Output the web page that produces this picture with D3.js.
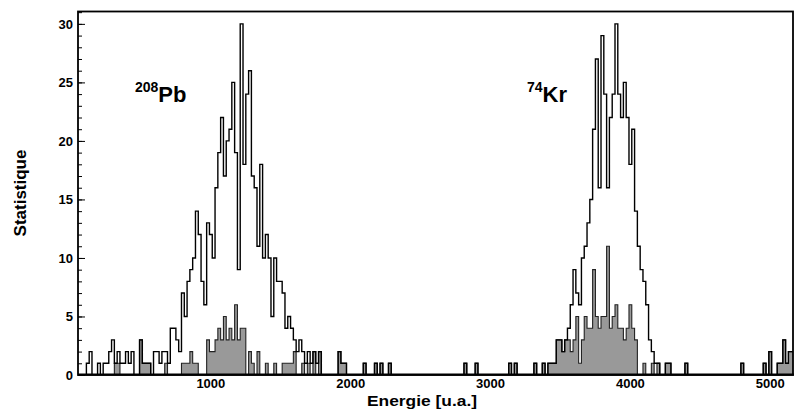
<!DOCTYPE html>
<html>
<head>
<meta charset="utf-8">
<script src="https://cdn.jsdelivr.net/npm/d3@7"></script>
<style>
  body { margin: 0; background: #fff; }
  text { font-family: "Liberation Sans", Arial, Helvetica, sans-serif; font-weight: bold; }
</style>
</head>
<body>
<script>
// histogram binning (energy units)
const binStart = 50;
const binWidth = 20;

// all events, one value per bin (256 bins)
const totalCounts = [
  0,0,0,1,2,0,0,1,0,1,1,2,3,1,2,1,
  1,2,1,2,0,0,3,1,1,1,0,2,2,1,2,2,
  1,4,4,3,2,7,5,8,9,10,14,12,8,6,13,12,
  10,16,19,22,17,20,21,25,19,9,30,18,24,26,17,16,
  11,18,10,12,10,5,10,8,8,7,4,5,4,3,2,3,
  2,1,2,1,2,1,2,0,0,0,0,0,0,2,1,1,
  0,0,0,0,0,0,1,0,0,0,1,0,1,0,0,1,
  0,0,0,0,0,0,0,0,0,0,0,0,0,0,0,0,
  0,0,0,0,0,0,0,0,0,0,1,0,0,0,1,0,
  0,0,0,0,0,0,0,0,0,0,1,0,1,0,0,0,
  0,0,0,1,0,0,1,0,1,1,1,3,3,2,3,4,
  6,9,7,6,10,11,13,15,21,27,16,29,24,16,22,24,
  30,24,22,25,22,18,21,14,11,9,8,6,3,2,1,1,
  0,0,1,1,0,0,0,0,0,1,0,0,0,0,0,0,
  0,0,0,0,0,0,0,0,0,0,0,0,0,1,0,0,
  0,0,0,0,0,1,0,2,0,0,1,1,3,1,2,2
];

// selected events (grey histogram)
const gatedCounts = [
  0,0,0,0,0,0,0,0,0,0,0,0,0,1,1,0,
  0,0,0,0,0,0,3,1,1,1,0,0,0,0,0,1,
  0,0,0,0,0,1,1,1,2,1,1,0,0,0,3,2,
  2,3,4,3,5,3,4,3,6,3,4,4,0,2,1,0,
  2,0,0,1,0,0,1,0,0,1,1,1,1,2,0,0,
  1,0,1,0,2,0,2,0,0,0,0,0,0,2,1,1,
  0,0,0,0,0,0,1,0,0,0,1,0,1,0,0,1,
  0,0,0,0,0,0,0,0,0,0,0,0,0,0,0,0,
  0,0,0,0,0,0,0,0,0,0,1,0,0,0,1,0,
  0,0,0,0,0,0,0,0,0,0,1,0,1,0,0,0,
  0,0,0,1,0,0,1,0,1,1,1,3,3,2,3,3,
  2,3,5,1,3,5,4,4,9,5,4,5,5,11,4,5,
  6,4,4,3,4,6,4,3,0,0,1,0,0,1,0,1,
  0,0,1,1,0,0,0,0,0,1,0,0,0,0,0,0,
  0,0,0,0,0,0,0,0,0,0,0,0,0,1,0,0,
  0,0,0,0,0,1,0,2,0,0,1,1,3,1,2,2
];

const yTicks = [0, 5, 10, 15, 20, 25, 30];
const yMinorTicks = d3.range(0, 32);
const xTicks = [1000, 2000, 3000, 4000, 5000];

const svg = d3.select("body")
    .append("svg")
    .attr("width", 794)
    .attr("height", 412);

const x = d3.scaleLinear().domain([50, 5170]).range([78, 794]);
const y = d3.scaleLinear().domain([0, 31.1]).range([375, 11]);

// turn counts into step points (left edge of each bin + closing edge)
function steps(counts) {
    const pts = counts.map((c, i) => ({ e: binStart + i * binWidth, c: c }));
    pts.push({ e: binStart + counts.length * binWidth, c: counts[counts.length - 1] });
    return pts;
}

svg.append("clipPath")
    .attr("id", "plot-clip")
    .append("rect")
    .attr("x", 78)
    .attr("y", 11)
    .attr("width", 715)
    .attr("height", 364);

const plot = svg.append("g").attr("clip-path", "url(#plot-clip)");

const area = d3.area()
    .curve(d3.curveStepAfter)
    .x(d => x(d.e))
    .y0(y(0))
    .y1(d => y(d.c));

const line = d3.line()
    .curve(d3.curveStepAfter)
    .x(d => x(d.e))
    .y(d => y(d.c));

plot.append("path")
    .datum(steps(gatedCounts))
    .attr("d", area)
    .attr("fill", "#999")
    .attr("stroke", "#222")
    .attr("stroke-width", 1.1);

plot.append("path")
    .datum(steps(totalCounts))
    .attr("d", line)
    .attr("fill", "none")
    .attr("stroke", "#000")
    .attr("stroke-width", 1.4);

// y axis : minor + major ticks, pointing inside
svg.append("g")
    .attr("transform", "translate(78,0)")
    .call(d3.axisLeft(y).tickValues(yMinorTicks).tickSizeInner(-4).tickSizeOuter(0).tickFormat(""))
    .call(g => g.select(".domain").remove())
    .selectAll("line").attr("stroke", "#000");

const yAxis = svg.append("g")
    .attr("transform", "translate(78,0)")
    .call(d3.axisLeft(y).tickValues(yTicks).tickSizeInner(-7).tickSizeOuter(0).tickPadding(5));
yAxis.select(".domain").remove();
yAxis.selectAll("line").attr("stroke", "#000");
yAxis.selectAll("text")
    .attr("font-size", 13)
    .attr("font-family", "Liberation Sans, Arial, sans-serif")
    .attr("font-weight", "bold")
    .attr("fill", "#000");

// x tick labels
svg.append("g")
    .selectAll("text")
    .data(xTicks)
    .enter()
    .append("text")
    .attr("x", d => x(d))
    .attr("y", 388)
    .attr("text-anchor", "middle")
    .attr("font-size", 13)
    .text(d => d);

// frame
svg.append("rect")
    .attr("x", 78)
    .attr("y", 11.5)
    .attr("width", 715)
    .attr("height", 363.5)
    .attr("fill", "none")
    .attr("stroke", "#000")
    .attr("stroke-width", 1.8);

svg.append("line")
    .attr("x1", 78).attr("x2", 794)
    .attr("y1", 374.5).attr("y2", 374.5)
    .attr("stroke", "#000")
    .attr("stroke-width", 2);

// axis titles
svg.append("text")
    .attr("x", 477)
    .attr("y", 406)
    .attr("text-anchor", "end")
    .attr("font-size", 15)
    .attr("textLength", 110)
    .attr("lengthAdjust", "spacingAndGlyphs")
    .text("Energie [u.a.]");

svg.append("text")
    .attr("transform", "translate(26,193) rotate(-90)")
    .attr("text-anchor", "middle")
    .attr("font-size", 17)
    .text("Statistique");

// peak labels
const pb = svg.append("text").attr("x", 135).attr("y", 102);
pb.append("tspan").attr("font-size", 14).attr("dy", -10).text("208");
pb.append("tspan").attr("font-size", 22).attr("dy", 10).text("Pb");

const kr = svg.append("text").attr("x", 527).attr("y", 102);
kr.append("tspan").attr("font-size", 14).attr("dy", -10).text("74");
kr.append("tspan").attr("font-size", 22).attr("dy", 10).text("Kr");
</script>
</body>
</html>
